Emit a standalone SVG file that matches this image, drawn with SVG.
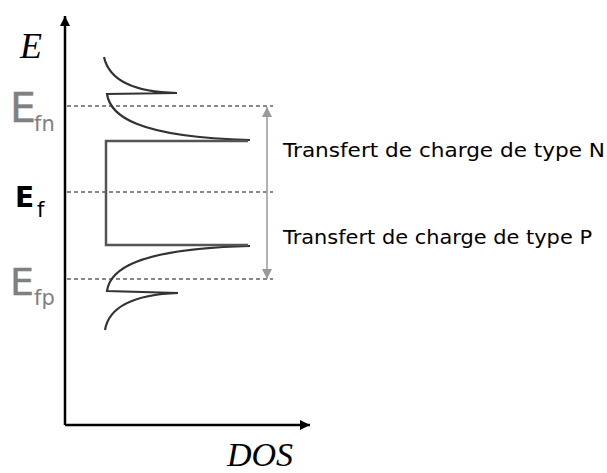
<svg xmlns="http://www.w3.org/2000/svg" width="607" height="473" viewBox="0 0 607 473">
<style>
.axis{stroke:#000;stroke-width:2.5;fill:none}
.dash{stroke:#111;stroke-width:1;stroke-dasharray:4,3;fill:none}
.curve{stroke:#333;stroke-width:2.2;fill:none}
.band{stroke:#555;stroke-width:2.5;fill:none}
.garrow{stroke:#999;stroke-width:1.5;fill:none}
.ital{font-family:"Liberation Serif",serif;font-style:italic;fill:#000}
.lbl{font-family:"DejaVu Sans","Open Sans",sans-serif;fill:#000}
.gray{fill:#808080}
</style>
<defs>
<marker id="ah" viewBox="0 0 10 10" refX="10" refY="5" markerWidth="10" markerHeight="10" markerUnits="userSpaceOnUse" orient="auto">
<path d="M0,0 L10,5 L0,10 Z" fill="#000"/>
</marker>
<marker id="gh" viewBox="0 0 10 10" refX="10" refY="5" markerWidth="11" markerHeight="10" markerUnits="userSpaceOnUse" orient="auto">
<path d="M0,0 L10,5 L0,10 Z" fill="#999"/>
</marker>
</defs>
<g id="axes">
<path class="axis" d="M65,425 L65,16" marker-end="url(#ah)"/>
<path class="axis" d="M65,425 L310,425" marker-end="url(#ah)"/>
<text class="ital" x="20" y="58" font-size="36">E</text>
<text class="ital" x="227" y="466" font-size="34">DOS</text>
</g>
<g id="levels">
<line class="dash" x1="67" y1="106" x2="273" y2="106"/>
<line class="dash" x1="67" y1="192" x2="273" y2="192"/>
<line class="dash" x1="67" y1="279" x2="273" y2="279"/>
</g>
<g id="labels-E">
<text class="lbl gray" x="10" y="122" font-size="41" stroke="#808080" stroke-width="0.4">E</text>
<text class="lbl gray" x="34" y="131" font-size="21">fn</text>
<text class="lbl" x="15" y="207" font-size="28" font-weight="bold">E</text>
<text class="lbl" x="37" y="217" font-size="21">f</text>
<text class="lbl gray" x="10" y="295" font-size="38" stroke="#808080" stroke-width="0.4">E</text>
<text class="lbl gray" x="34" y="305" font-size="21">fp</text>
</g>
<g id="dos">
<path class="curve" d="M104,57 C108,75 125,92 177,93 L107,94 C110,115 135,137 250,140"/>
<path class="curve" d="M105,330 C108,312 125,295 178,293 L107,291 C110,270 135,249 250,246"/>
<path class="band" d="M248,141 L106,141 L106,245 L248,245"/>
</g>
<g id="connectors">
<path class="garrow" d="M267,192 L267,107" marker-end="url(#gh)"/>
<path class="garrow" d="M267,192 L267,279" marker-end="url(#gh)"/>
</g>
<g id="text-N">
<text class="lbl" x="283" y="157" font-size="20" textLength="322" lengthAdjust="spacingAndGlyphs">Transfert de charge de type N</text>
</g>
<g id="text-P">
<text class="lbl" x="283" y="244" font-size="20" textLength="309" lengthAdjust="spacingAndGlyphs">Transfert de charge de type P</text>
</g>
</svg>
